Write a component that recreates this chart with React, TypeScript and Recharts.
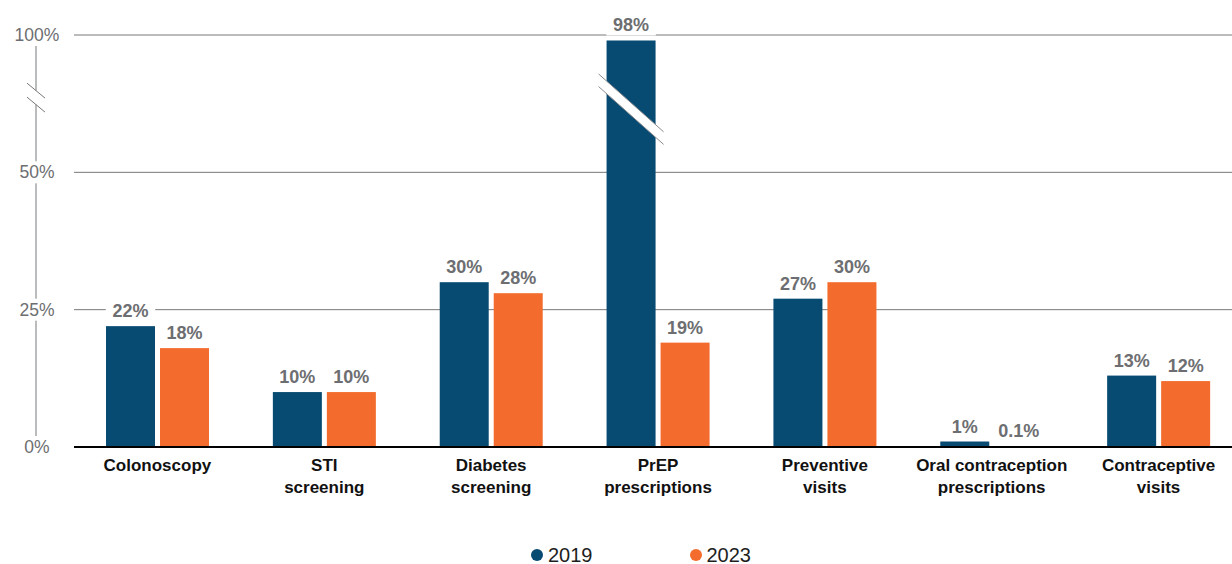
import React from "react";
import {
  BarChart,
  Bar,
  XAxis,
  YAxis,
  CartesianGrid,
  LabelList,
  Legend,
  Customized,
} from "recharts";

// ---------- data ----------
const categories = [
  "Colonoscopy",
  "STI screening",
  "Diabetes screening",
  "PrEP prescriptions",
  "Preventive visits",
  "Oral contraception prescriptions",
  "Contraceptive visits",
];
const categoryLines = [
  ["Colonoscopy"],
  ["STI", "screening"],
  ["Diabetes", "screening"],
  ["PrEP", "prescriptions"],
  ["Preventive", "visits"],
  ["Oral contraception", "prescriptions"],
  ["Contraceptive", "visits"],
];
const values2019 = [22, 10, 30, 98, 27, 1, 13];
const values2023 = [18, 10, 28, 19, 30, 0.1, 12];
const seriesNames = ["2019", "2023"];
const yTickValues = [0, 25, 50, 100];
const yTickLabels = ["0%", "25%", "50%", "100%"];

// ---------- broken axis: above 50% the scale is compressed by half ----------
const BREAK_START = 50;
const toAxis = (v: number) => (v <= BREAK_START ? v : BREAK_START + (v - BREAK_START) / 2);
const Y_MAX = toAxis(100);
const yTickPositions = yTickValues.map(toAxis);
const AXIS_BREAK_POS = 63.6; // axis units where the y-axis break mark sits
const BAR_BREAK_POS = 61.5; // axis units where the bar break stripe sits

const fmt = (v: number) => `${v}%`;

const data = categories.map((c, i) => ({
  category: c,
  v2019: values2019[i],
  v2023: values2023[i],
  a2019: toAxis(values2019[i]),
  a2023: toAxis(values2023[i]),
  l2019: fmt(values2019[i]),
  l2023: fmt(values2023[i]),
}));

// ---------- style ----------
const FONT = "'Liberation Sans', Arial, Helvetica, sans-serif";
const BLUE = "#074a72";
const ORANGE = "#f36c2d";
const GRAY_TEXT = "#6d6e71";
const GRID = "#77787b";
const CHART_W = 1232;
const CHART_H = 564;
const MARGIN = { top: 35, right: 0, bottom: 0, left: 0 };
const YAXIS_W = 74;
const XAXIS_H = 93;
const LEGEND_H = 24;
const AXIS_X = 37;

const PLOT_TOP = MARGIN.top;
const PLOT_BOTTOM = CHART_H - MARGIN.bottom - LEGEND_H - XAXIS_H;
const yOf = (a: number) => PLOT_TOP + (PLOT_BOTTOM - PLOT_TOP) * (1 - a / Y_MAX);

// ---------- components ----------
const YTick = (props: any) => {
  const { y, payload } = props;
  const idx = yTickPositions.indexOf(payload.value);
  const label = idx >= 0 ? yTickLabels[idx] : "";
  return (
    <g>
      <rect x={AXIS_X - 28} y={y - 11} width={56} height={22} fill="#fff" />
      <text
        x={AXIS_X}
        y={y}
        textAnchor="middle"
        dominantBaseline="central"
        fontFamily={FONT}
        fontSize={17.5}
        fill={GRAY_TEXT}
      >
        {label}
      </text>
    </g>
  );
};

const XTick = (props: any) => {
  const { x, y, payload } = props;
  const idx = categories.indexOf(payload.value);
  const lines = idx >= 0 ? categoryLines[idx] : [String(payload.value)];
  return (
    <text
      x={x}
      y={y}
      textAnchor="middle"
      fontFamily={FONT}
      fontSize={17}
      fontWeight={700}
      fill="#111"
    >
      {lines.map((l, i) => (
        <tspan key={i} x={x} dy={i === 0 ? 16 : 22}>
          {l}
        </tspan>
      ))}
    </text>
  );
};

const ValueLabel = (props: any) => {
  const { x, y, width, value } = props;
  const cx = x + width / 2;
  const base = y - 9;
  const tw = String(value).length * 10.5 + 2;
  return (
    <g>
      <rect x={cx - tw / 2 - 8} y={base - 16} width={tw + 16} height={20} fill="#fff" />
      <text
        x={cx}
        y={base}
        textAnchor="middle"
        fontFamily={FONT}
        fontSize={18}
        fontWeight={700}
        fill={GRAY_TEXT}
      >
        {value}
      </text>
    </g>
  );
};

const makeShape = (realKey: string, axisKey: string) => (props: any) => {
  const { x, y, width, height, fill, payload } = props;
  const real = payload ? payload[realKey] : 0;
  const axisVal = payload ? payload[axisKey] : 0;
  const broken = real > 75 && axisVal > BAR_BREAK_POS;
  let stripe = null;
  if (broken) {
    const bottom = y + height;
    const yc = bottom - (height * BAR_BREAK_POS) / axisVal;
    const ext = 8;
    const x0 = x - ext;
    const x1 = x + width + ext;
    const half = (x1 - x0) / 2;
    const slope = 0.89;
    const th = 6.3;
    const uL = yc - th - slope * half;
    const uR = yc - th + slope * half;
    const lL = yc + th - slope * half;
    const lR = yc + th + slope * half;
    stripe = (
      <g>
        <polygon points={`${x0},${uL} ${x1},${uR} ${x1},${lR} ${x0},${lL}`} fill="#fff" />
        <line x1={x0} y1={uL} x2={x1} y2={uR} stroke="#8a8b8e" strokeWidth={1} />
        <line x1={x0} y1={lL} x2={x1} y2={lR} stroke="#8a8b8e" strokeWidth={1} />
      </g>
    );
  }
  return (
    <g>
      <rect x={x} y={y} width={width} height={height} fill={fill} />
      {stripe}
    </g>
  );
};

const AxisDeco = () => {
  const yb = yOf(AXIS_BREAK_POS);
  const sep = 7;
  const hw = 9;
  const slope = 0.83;
  return (
    <g>
      <line x1={AXIS_X - 1} y1={PLOT_TOP} x2={AXIS_X - 1} y2={PLOT_BOTTOM} stroke={GRID} strokeWidth={1} />
      <rect x={AXIS_X - 4} y={yb - sep} width={6} height={sep * 2} fill="#fff" />
      <line
        x1={AXIS_X - 1 - hw}
        y1={yb - sep - slope * hw}
        x2={AXIS_X - 1 + hw}
        y2={yb - sep + slope * hw}
        stroke={GRID}
        strokeWidth={1}
      />
      <line
        x1={AXIS_X - 1 - hw}
        y1={yb + sep - slope * hw}
        x2={AXIS_X - 1 + hw}
        y2={yb + sep + slope * hw}
        stroke={GRID}
        strokeWidth={1}
      />
    </g>
  );
};

const LegendContent = () => {
  const colors = [BLUE, ORANGE];
  return (
    <div
      style={{
        display: "flex",
        justifyContent: "center",
        alignItems: "center",
        height: LEGEND_H,
        paddingLeft: 50,
        paddingTop: 6,
        boxSizing: "border-box",
        gap: 97,
        fontFamily: FONT,
        fontSize: 20,
        color: "#1e1e1e",
      }}
    >
      {seriesNames.map((n, i) => (
        <span key={n} style={{ display: "flex", alignItems: "center" }}>
          <svg width={12} height={12} style={{ display: "block" }}>
            <circle cx={6} cy={6} r={6} fill={colors[i]} />
          </svg>
          <span style={{ marginLeft: 5, lineHeight: "20px" }}>{n}</span>
        </span>
      ))}
    </div>
  );
};

export default function App() {
  return (
    <div style={{ position: "absolute", left: 0, top: 0, background: "#fff" }}>
      <BarChart
        width={CHART_W}
        height={CHART_H}
        data={data}
        margin={MARGIN}
        barGap={5}
        barSize={49}
      >
        <CartesianGrid vertical={false} stroke={GRID} strokeWidth={1} />
        <Customized component={AxisDeco} />
        <XAxis
          dataKey="category"
          interval={0}
          height={XAXIS_H}
          padding={{ left: 0, right: -10 }}
          axisLine={{ stroke: "#000", strokeWidth: 2 }}
          tickLine={false}
          tick={<XTick />}
        />
        <YAxis
          width={YAXIS_W}
          domain={[0, Y_MAX]}
          ticks={yTickPositions}
          axisLine={false}
          tickLine={false}
          tick={<YTick />}
          allowDataOverflow
        />
        <Legend verticalAlign="bottom" height={LEGEND_H} content={<LegendContent />} />
        <Bar
          dataKey="a2019"
          name={seriesNames[0]}
          fill={BLUE}
          isAnimationActive={false}
          shape={makeShape("v2019", "a2019")}
        >
          <LabelList dataKey="l2019" content={<ValueLabel />} />
        </Bar>
        <Bar
          dataKey="a2023"
          name={seriesNames[1]}
          fill={ORANGE}
          isAnimationActive={false}
          shape={makeShape("v2023", "a2023")}
        >
          <LabelList dataKey="l2023" content={<ValueLabel />} />
        </Bar>
      </BarChart>
    </div>
  );
}
